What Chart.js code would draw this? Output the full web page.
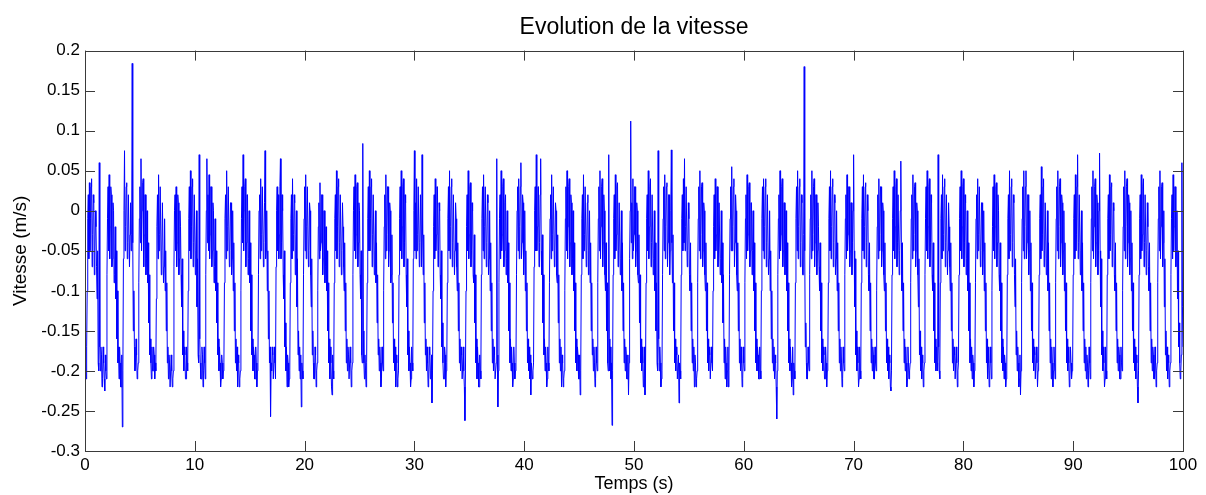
<!DOCTYPE html>
<html>
<head>
<meta charset="utf-8">
<script src="https://cdn.jsdelivr.net/npm/chart.js@4"></script>
<style>
  body { margin: 0; background: #fff; }
  canvas { display: block; }
</style>
</head>
<body>
<canvas id="graphe" width="1206" height="495"></canvas>
<script>
// pas d'echantillonnage du signal (s)
const dt = 0.05

// vitesse (m/s), un cycle par ligne
const vitesse = [
  -0.17, -0.19, -0.21, -0.17,
  -0.10,-0.01, 0.02,-0.06, 0.035,-0.05, -0.01,0.03, 0.04,-0.07, -0.03,0.02, 0.01,-0.08, -0.05,0.00, -0.02,-0.07, -0.11,-0.05, -0.19,-0.20, 0.06,-0.17, -0.20,-0.17, -0.18,-0.22, -0.21,-0.17, -0.19,-0.21, -0.225,-0.18, -0.20,-0.21,
  -0.08,-0.01, 0.03,-0.05, 0.045,-0.06, -0.02,0.03, 0.02,-0.07, -0.06,0.01, 0.00,-0.09, -0.08,-0.02, -0.11,-0.05, -0.16,-0.10, -0.19,-0.17, -0.21,-0.17, -0.19,-0.22, -0.22,-0.18, -0.27,-0.20,
  -0.06,0.00, 0.075,-0.05, -0.02,0.03, 0.035,-0.06, -0.04,0.02, 0.02,-0.07, -0.03,0.01, -0.05,-0.03, 0.184,-0.04, -0.15,-0.10, -0.17,-0.20, -0.19,-0.16, -0.18,-0.21, -0.20,-0.19,
  -0.09,-0.01, 0.03,-0.04, 0.065,-0.05, 0.00,0.035, 0.04,-0.07, -0.03,0.02, 0.02,-0.08, -0.06,0.00, -0.09,-0.04, -0.14,-0.08, -0.18,-0.16, -0.19,-0.21, -0.17,-0.20, -0.20,-0.17, -0.18,-0.21, -0.19,-0.20,
  -0.11,-0.02, 0.02,-0.06, 0.045,-0.05, -0.03,0.03, 0.03,-0.08, -0.05,0.01, 0.01,-0.09, -0.07,-0.01, -0.10,-0.05, -0.15,-0.09, -0.19,-0.17, -0.21,-0.18, -0.19,-0.22, -0.22,-0.18, -0.20,-0.22, -0.21,-0.20,
  -0.07,0.00, 0.02,-0.05, 0.03,-0.07, -0.04,0.02, 0.01,-0.08, -0.06,0.00, -0.02,-0.08, -0.12,-0.06, -0.18,-0.15, -0.20,-0.17, -0.18,-0.21, -0.21,-0.17, -0.19,-0.20,
  -0.10,-0.01, 0.03,-0.05, 0.05,-0.06, -0.02,0.03, 0.04,-0.07, -0.04,0.02, 0.02,-0.08, -0.05,0.00, -0.12,-0.06, -0.18,-0.19, 0.07,-0.16, -0.19,-0.21, -0.21,-0.17, -0.18,-0.22, -0.20,-0.17, -0.19,-0.21,
  -0.08,0.00, 0.065,-0.04, 0.02,-0.05, 0.045,-0.06, -0.03,0.03, 0.03,-0.07, -0.05,0.01, 0.00,-0.09, -0.07,-0.01, -0.10,-0.05, -0.14,-0.09, -0.18,-0.16, -0.20,-0.17, -0.19,-0.22, -0.21,-0.18, -0.19,-0.21, -0.20,-0.19,
  -0.09,-0.01, 0.02,-0.06, 0.05,-0.05, -0.02,0.03, 0.03,-0.07, -0.05,0.01, 0.01,-0.08, -0.06,0.00, -0.10,-0.04, -0.15,-0.09, -0.19,-0.16, -0.20,-0.17, -0.22,-0.18, -0.19,-0.22, -0.21,-0.20,
  -0.10,-0.01, 0.03,-0.04, 0.07,-0.05, 0.00,0.03, 0.04,-0.07, -0.04,0.02, 0.02,-0.08, -0.06,0.00, -0.09,-0.04, -0.15,-0.08, -0.18,-0.16, -0.20,-0.17, -0.18,-0.21, -0.21,-0.17, -0.19,-0.22, -0.20,-0.19,
  -0.08,0.00, 0.02,-0.06, 0.04,-0.05, -0.03,0.03, 0.03,-0.07, -0.04,0.01, 0.075,-0.06, -0.05,0.00, -0.10,-0.05, -0.16,-0.10, -0.19,-0.17, -0.257,-0.19, -0.20,-0.17, -0.18,-0.21, -0.21,-0.17, -0.19,-0.21,
  -0.07,0.00, 0.03,-0.05, 0.02,-0.06, -0.03,0.03, 0.065,-0.06, -0.04,0.02, 0.00,-0.08, -0.11,-0.05, -0.17,-0.14, -0.20,-0.17, -0.22,-0.18, -0.19,-0.22, -0.21,-0.20,
  -0.09,-0.01, 0.02,-0.06, 0.04,-0.05, -0.03,0.02, 0.01,-0.08, -0.05,0.00, -0.12,-0.06, -0.18,-0.15, -0.20,-0.17, -0.21,-0.18, -0.245,-0.19, -0.20,-0.21,
  -0.08,-0.01, 0.03,-0.05, 0.045,-0.06, -0.02,0.03, 0.03,-0.07, -0.05,0.01, 0.00,-0.08, -0.12,-0.06, -0.18,-0.15, -0.19,-0.21, -0.21,-0.17, -0.18,-0.22, -0.20,-0.19,
  -0.10,-0.02, 0.01,-0.06, 0.035,-0.05, -0.04,0.02, 0.02,-0.08, -0.06,0.00, 0.00,-0.09, -0.07,-0.02, -0.10,-0.05, -0.15,-0.09, -0.19,-0.16, -0.21,-0.17, -0.19,-0.22, -0.23,-0.18, -0.20,-0.21,
  -0.09,-0.01, 0.02,-0.05, 0.05,-0.06, -0.02,0.03, 0.04,-0.07, -0.04,0.02, 0.02,-0.08, -0.05,0.01, -0.02,-0.07, -0.10,-0.04, -0.15,-0.09, -0.19,-0.16, -0.20,-0.17, -0.18,-0.21, -0.21,-0.17, -0.19,-0.22, -0.20,-0.19,
  -0.08,0.00, 0.03,-0.05, 0.045,-0.06, -0.03,0.03, 0.035,-0.07, -0.04,0.01, 0.00,-0.08, -0.11,-0.05, -0.18,-0.19, 0.084,-0.15, -0.19,-0.21, -0.18,-0.20, -0.22,-0.19,
  -0.09,-0.01, 0.03,-0.05, 0.05,-0.05, -0.01,0.03, 0.04,-0.07, -0.03,0.02, 0.02,-0.08, -0.05,0.00, -0.09,-0.04, -0.14,-0.08, -0.18,-0.16, -0.20,-0.17, -0.19,-0.22, -0.21,-0.17, -0.19,-0.20,
  -0.10,-0.02, 0.02,-0.06, 0.045,-0.05, -0.03,0.03, 0.03,-0.07, -0.05,0.01, 0.00,-0.09, -0.08,-0.03, -0.14,-0.09, -0.19,-0.16, -0.20,-0.17, -0.22,-0.18, -0.19,-0.22, -0.21,-0.20,
  -0.08,-0.01, 0.03,-0.05, 0.05,-0.06, -0.02,0.03, 0.04,-0.07, -0.04,0.02, 0.01,-0.08, -0.12,-0.06, -0.18,-0.15, -0.20,-0.17, -0.19,-0.22, -0.21,-0.17, -0.19,-0.20,
  -0.06,0.00, 0.075,-0.05, 0.01,-0.06, 0.04,-0.05, -0.03,0.03, 0.03,-0.07, -0.04,0.02, 0.02,-0.07, 0.07,-0.03, -0.08,-0.03, -0.14,-0.09, -0.18,-0.16, -0.20,-0.17, -0.19,-0.22, -0.21,-0.17, -0.18,-0.21, -0.20,-0.18, -0.24,-0.20,
  -0.10,-0.02, 0.02,-0.06, 0.04,-0.05, -0.03,0.03, 0.03,-0.07, -0.05,0.01, 0.00,-0.08, -0.11,-0.05, -0.17,-0.14, -0.19,-0.21, -0.21,-0.17, -0.18,-0.22, -0.20,-0.19,
  -0.09,-0.01, 0.03,-0.05, 0.05,-0.06, -0.02,0.03, 0.04,-0.07, -0.04,0.02, 0.02,-0.08, -0.05,0.01, -0.01,-0.07, -0.10,-0.04, -0.15,-0.09, -0.19,-0.16, -0.20,-0.17, -0.18,-0.21, -0.21,-0.17, -0.20,-0.22, -0.262,-0.20,
  -0.10,-0.02, 0.02,-0.05, 0.05,-0.06, -0.03,0.03, 0.035,-0.07, -0.05,0.01, 0.00,-0.08, -0.09,-0.03, -0.14,-0.08, -0.19,-0.16, -0.21,-0.17, -0.19,-0.22, -0.22,-0.18, -0.20,-0.21,
  -0.08,-0.01, 0.03,-0.05, 0.045,-0.06, -0.02,0.03, 0.03,-0.07, -0.04,0.02, 0.01,-0.08, -0.06,0.00, -0.10,-0.04, -0.15,-0.09, -0.19,-0.16, -0.20,-0.17, -0.18,-0.21, -0.21,-0.19, 0.065,-0.18, -0.245,-0.20,
  -0.09,-0.01, 0.02,-0.06, 0.05,-0.05, -0.03,0.03, 0.04,-0.07, -0.05,0.01, 0.02,-0.08, -0.06,0.00, -0.09,-0.04, -0.15,-0.09, -0.19,-0.16, -0.20,-0.17, -0.19,-0.22, -0.21,-0.17, -0.19,-0.21, -0.20,-0.19,
  -0.08,0.00, 0.03,-0.05, 0.04,-0.06, -0.02,0.03, 0.06,-0.06, -0.04,0.02, 0.01,-0.08, -0.05,0.00, -0.10,-0.05, -0.15,-0.09, -0.19,-0.16, -0.20,-0.17, -0.21,-0.18, -0.23,-0.19, -0.19,-0.21, -0.20,-0.19,
  -0.07,0.00, 0.03,-0.05, 0.07,-0.05, -0.02,0.03, 0.03,-0.07, -0.04,0.02, 0.065,-0.05, -0.08,-0.03, -0.14,-0.08, -0.18,-0.16, -0.20,-0.17, -0.19,-0.22, -0.21,-0.17, -0.19,-0.20,
  -0.09,-0.01, 0.02,-0.06, 0.045,-0.05, -0.03,0.03, 0.03,-0.07, -0.05,0.01, 0.00,-0.08, -0.09,-0.03, -0.14,-0.08, -0.19,-0.16, -0.20,-0.17, -0.22,-0.18, -0.19,-0.22, -0.21,-0.20,
  -0.10,-0.01, 0.03,-0.05, 0.05,-0.06, -0.02,0.03, 0.04,-0.07, -0.04,0.02, 0.01,-0.08, -0.06,0.00, -0.10,-0.04, -0.15,-0.09, -0.19,-0.16, -0.20,-0.17, -0.18,-0.21, -0.21,-0.18, -0.23,-0.20,
  -0.08,-0.01, 0.02,-0.06, 0.045,-0.05, -0.03,0.03, 0.03,-0.07, -0.05,0.01, 0.02,-0.08, -0.05,0.00, -0.09,-0.04, -0.15,-0.09, -0.18,-0.16, -0.20,-0.17, -0.19,-0.22, -0.21,-0.17, -0.19,-0.20,
  -0.09,-0.01, 0.03,-0.05, 0.05,-0.06, -0.02,0.03, 0.04,-0.07, -0.04,0.02, 0.00,-0.08, -0.10,-0.04, -0.15,-0.09, -0.19,-0.20, 0.07,-0.16, -0.20,-0.17, -0.21,-0.19, -0.268,-0.20,
  -0.08,-0.01, 0.02,-0.06, 0.045,-0.05, -0.03,0.03, 0.035,-0.07, -0.05,0.01, 0.01,-0.08, -0.06,0.00, -0.10,-0.04, -0.15,-0.09, -0.19,-0.16, -0.20,-0.17, -0.18,-0.21, -0.21,-0.18, -0.23,-0.19,
  -0.06,0.00, 0.112,-0.04, 0.01,-0.06, 0.04,-0.05, -0.03,0.03, 0.03,-0.07, -0.05,0.01, 0.00,-0.08, -0.09,-0.03, -0.14,-0.08, -0.19,-0.16, -0.20,-0.17, -0.19,-0.22, -0.21,-0.17, -0.23,-0.20,
  -0.09,-0.01, 0.02,-0.05, 0.05,-0.06, -0.02,0.03, 0.04,-0.07, -0.04,0.02, 0.02,-0.08, -0.06,0.00, -0.10,-0.04, -0.15,-0.09, -0.19,-0.20, 0.075,-0.16, -0.20,-0.17, -0.19,-0.22, -0.21,-0.20,
  -0.08,-0.01, 0.03,-0.05, 0.045,-0.06, -0.02,0.03, 0.035,-0.07, -0.04,0.02, 0.02,-0.08, -0.05,0.00, 0.076,-0.04, -0.09,-0.03, -0.15,-0.09, -0.19,-0.16, -0.20,-0.17, -0.18,-0.21, -0.21,-0.18, -0.24,-0.19, -0.20,-0.21,
  -0.08,-0.01, 0.02,-0.05, 0.04,-0.04, 0.065,-0.05, -0.02,0.03, 0.03,-0.07, -0.05,0.01, -0.01,-0.08, -0.10,-0.04, -0.15,-0.09, -0.19,-0.16, -0.20,-0.17, -0.22,-0.18, -0.19,-0.22, -0.21,-0.20,
  -0.09,-0.01, 0.03,-0.05, 0.05,-0.06, -0.03,0.03, 0.035,-0.07, -0.05,0.01, 0.00,-0.08, -0.10,-0.04, -0.15,-0.09, -0.19,-0.16, -0.20,-0.17, -0.18,-0.21, -0.21,-0.17, -0.19,-0.20,
  -0.10,-0.02, 0.02,-0.06, 0.04,-0.05, -0.03,0.03, 0.03,-0.07, -0.05,0.01, 0.01,-0.08, -0.06,0.00, -0.09,-0.04, -0.14,-0.08, -0.19,-0.16, -0.21,-0.17, -0.19,-0.22, -0.20,-0.17, -0.22,-0.20,
  -0.08,-0.01, 0.03,-0.05, 0.055,-0.05, -0.02,0.03, 0.04,-0.07, -0.04,0.02, 0.00,-0.08, -0.10,-0.04, -0.15,-0.09, -0.19,-0.16, -0.20,-0.17, -0.19,-0.22, -0.21,-0.17, -0.19,-0.20,
  -0.09,-0.01, 0.02,-0.06, 0.045,-0.05, -0.03,0.03, 0.035,-0.07, -0.05,0.01, 0.01,-0.08, -0.05,0.00, -0.10,-0.04, -0.15,-0.09, -0.19,-0.16, -0.20,-0.17, -0.18,-0.21, -0.21,-0.17, -0.20,-0.21,
  -0.10,-0.01, 0.03,-0.05, 0.04,-0.06, -0.02,0.03, 0.04,-0.07, -0.04,0.02, 0.02,-0.08, -0.06,0.00, -0.10,-0.05, -0.16,-0.10, -0.19,-0.16, -0.20,-0.17, -0.21,-0.18, -0.19,-0.22, -0.26,-0.20,
  -0.08,-0.01, 0.02,-0.06, 0.05,-0.05, -0.03,0.03, 0.04,-0.07, -0.05,0.01, 0.01,-0.08, -0.05,0.00, -0.10,-0.04, -0.15,-0.09, -0.19,-0.16, -0.20,-0.17, -0.19,-0.22, -0.21,-0.17, -0.23,-0.19, -0.20,-0.21,
  -0.09,-0.01, 0.03,-0.05, 0.05,-0.06, -0.02,0.03, 0.04,-0.07, -0.04,0.02, 0.01,-0.08, -0.08,-0.03, 0.18,-0.05, -0.17,-0.14, -0.19,-0.21, -0.21,-0.17, -0.19,-0.20,
  -0.08,-0.01, 0.02,-0.06, 0.05,-0.05, -0.03,0.03, 0.04,-0.07, -0.04,0.02, 0.02,-0.08, -0.05,0.01, -0.02,-0.07, -0.10,-0.04, -0.15,-0.09, -0.19,-0.16, -0.20,-0.17, -0.18,-0.21, -0.21,-0.17, -0.19,-0.22, -0.20,-0.19,
  -0.09,-0.01, 0.03,-0.05, 0.05,-0.06, -0.02,0.03, 0.04,-0.07, -0.04,0.02, 0.01,-0.08, -0.06,0.00, -0.10,-0.04, -0.15,-0.09, -0.19,-0.16, -0.20,-0.17, -0.19,-0.22, -0.21,-0.17, -0.19,-0.20,
  -0.08,-0.01, 0.02,-0.06, 0.045,-0.05, -0.03,0.03, 0.03,-0.07, -0.05,0.01, 0.01,-0.08, -0.04,0.00, 0.07,-0.05, -0.12,-0.06, -0.18,-0.15, -0.20,-0.17, -0.19,-0.22, -0.21,-0.17, -0.20,-0.21,
  -0.09,-0.01, 0.03,-0.05, 0.045,-0.06, -0.02,0.03, 0.035,-0.07, -0.04,0.02, 0.00,-0.08, -0.10,-0.04, -0.15,-0.09, -0.19,-0.16, -0.20,-0.17, -0.18,-0.21, -0.21,-0.17, -0.19,-0.20,
  -0.10,-0.02, 0.02,-0.06, 0.04,-0.05, -0.03,0.03, 0.03,-0.07, -0.05,0.01, 0.00,-0.08, -0.10,-0.04, -0.15,-0.09, -0.19,-0.16, -0.20,-0.17, -0.21,-0.18, -0.19,-0.22, -0.225,-0.20,
  -0.08,-0.01, 0.03,-0.05, 0.05,-0.06, -0.02,0.03, 0.04,-0.07, -0.04,0.02, 0.02,-0.08, -0.05,0.00, 0.062,-0.04, -0.10,-0.04, -0.15,-0.09, -0.19,-0.16, -0.20,-0.17, -0.19,-0.22, -0.21,-0.17, -0.19,-0.21, -0.20,-0.19,
  -0.09,-0.01, 0.02,-0.06, 0.045,-0.05, -0.03,0.03, 0.035,-0.07, -0.05,0.01, 0.00,-0.08, -0.12,-0.06, -0.18,-0.15, -0.20,-0.17, -0.21,-0.18, -0.19,-0.22, -0.20,-0.19,
  -0.08,-0.01, 0.03,-0.05, 0.05,-0.06, -0.02,0.03, 0.04,-0.07, -0.04,0.02, 0.01,-0.08, -0.10,-0.04, -0.15,-0.09, -0.19,-0.16, -0.20,-0.17, -0.19,-0.20, 0.07,-0.17, -0.20,-0.21,
  -0.09,-0.01, 0.02,-0.06, 0.045,-0.05, -0.03,0.03, 0.04,-0.07, -0.04,0.02, 0.02,-0.08, -0.05,0.01, -0.02,-0.07, -0.10,-0.04, -0.15,-0.09, -0.19,-0.16, -0.20,-0.17, -0.18,-0.21, -0.21,-0.17, -0.19,-0.22, -0.20,-0.19,
  -0.08,-0.01, 0.03,-0.05, 0.05,-0.06, -0.02,0.03, 0.04,-0.07, -0.04,0.02, 0.01,-0.08, -0.06,0.00, -0.10,-0.04, -0.15,-0.09, -0.19,-0.16, -0.20,-0.17, -0.21,-0.18, -0.19,-0.22, -0.20,-0.19,
  -0.09,-0.01, 0.02,-0.06, 0.04,-0.05, -0.03,0.03, 0.03,-0.07, -0.05,0.01, 0.01,-0.08, -0.05,0.00, -0.10,-0.04, -0.15,-0.09, -0.19,-0.16, -0.21,-0.17, -0.19,-0.22, -0.20,-0.17, -0.19,-0.21,
  -0.10,-0.02, 0.03,-0.05, 0.045,-0.06, -0.02,0.03, 0.035,-0.07, -0.04,0.02, 0.00,-0.08, -0.10,-0.04, -0.15,-0.09, -0.19,-0.16, -0.20,-0.17, -0.21,-0.18, -0.19,-0.22, -0.21,-0.20,
  -0.08,-0.01, 0.02,-0.06, 0.05,-0.05, -0.03,0.03, 0.04,-0.07, -0.04,0.02, 0.01,-0.08, -0.12,-0.06, -0.18,-0.15, -0.20,-0.17, -0.19,-0.22, -0.21,-0.18, -0.23,-0.20,
  -0.09,-0.01, 0.03,-0.05, 0.05,-0.06, -0.02,0.03, 0.05,-0.06, -0.04,0.02, 0.02,-0.08, -0.05,0.00, -0.10,-0.04, -0.15,-0.09, -0.19,-0.16, -0.20,-0.17, -0.18,-0.21, -0.21,-0.17, -0.19,-0.22, -0.20,-0.19,
  -0.08,-0.01, 0.02,-0.06, 0.055,-0.05, -0.03,0.03, 0.04,-0.07, -0.05,0.01, 0.01,-0.08, -0.06,0.00, -0.10,-0.04, -0.15,-0.09, -0.19,-0.16, -0.21,-0.17, -0.19,-0.22, -0.20,-0.17, -0.19,-0.21,
  -0.09,-0.01, 0.03,-0.05, 0.05,-0.06, -0.02,0.03, 0.04,-0.07, -0.04,0.02, 0.01,-0.08, -0.05,0.00, -0.10,-0.04, -0.15,-0.09, -0.19,-0.16, -0.20,-0.17, -0.19,-0.22, -0.21,-0.17, -0.19,-0.21, -0.20,-0.19,
  -0.08,-0.01, 0.02,-0.06, 0.045,-0.05, -0.03,0.03, 0.07,-0.06, -0.04,0.02, 0.02,-0.08, -0.05,0.00, -0.10,-0.04, -0.15,-0.09, -0.19,-0.16, -0.20,-0.17, -0.21,-0.18, -0.19,-0.22, -0.20,-0.17, -0.19,-0.21,
  -0.09,-0.01, 0.03,-0.05, 0.05,-0.06, -0.02,0.03, 0.04,-0.07, -0.04,0.02, 0.01,-0.08, -0.05,0.00, 0.072,-0.05, -0.12,-0.06, -0.18,-0.15, -0.20,-0.17, -0.19,-0.22, -0.21,-0.17, -0.20,-0.21,
  -0.08,-0.01, 0.02,-0.06, 0.045,-0.05, -0.03,0.03, 0.035,-0.07, -0.05,0.01, 0.00,-0.08, -0.10,-0.04, -0.15,-0.09, -0.19,-0.16, -0.20,-0.17, -0.18,-0.21, -0.21,-0.17, -0.19,-0.20,
  -0.10,-0.02, 0.03,-0.05, 0.05,-0.06, -0.02,0.03, 0.04,-0.07, -0.04,0.02, 0.01,-0.08, -0.06,0.00, -0.10,-0.04, -0.15,-0.09, -0.19,-0.16, -0.20,-0.17, -0.21,-0.18, -0.19,-0.22, -0.24,-0.20,
  -0.08,-0.01, 0.02,-0.06, 0.045,-0.05, -0.03,0.03, 0.04,-0.07, -0.04,0.02, 0.02,-0.08, -0.05,0.01, -0.02,-0.07, -0.10,-0.04, -0.15,-0.09, -0.19,-0.16, -0.20,-0.17, -0.18,-0.21, -0.21,-0.17, -0.19,-0.22, -0.20,-0.19,
  -0.09,-0.01, 0.03,-0.05, 0.05,-0.06, -0.02,0.03, 0.035,-0.07, -0.04,0.00, -0.12,-0.06, -0.18,-0.15, -0.20,-0.17, -0.21,-0.18, -0.19,-0.22, -0.20,-0.19,
  -0.08,-0.01, 0.02,-0.06, 0.045,-0.05, -0.02,0.03, 0.03,-0.07, -0.05,0.00, -0.11,-0.05, -0.17,-0.14, -0.19,-0.21, -0.20,-0.18, 0.06,-0.12, -0.17
]

// graduations
const xTicks = [0, 10, 20, 30, 40, 50, 60, 70, 80, 90, 100]
const yTicks = [-0.3, -0.25, -0.2, -0.15, -0.1, -0.05, 0, 0.05, 0.1, 0.15, 0.2]
const yTickLabels = ['-0.3', '-0.25', '-0.2', '-0.15', '-0.1', '-0.05', '0', '0.05', '0.1', '0.15', '0.2']

const points = vitesse.map((v, i) => ({ x: Math.round(i * dt * 100) / 100, y: v }))

Chart.defaults.font.family = '"Liberation Sans", Arial, sans-serif'
Chart.defaults.color = '#000'

// cadre et graduations vers l'interieur, comme sous Matlab
const cadre = {
  id: 'cadre',
  afterDraw(chart) {
    const { ctx, chartArea: a, scales: { x, y } } = chart
    const len = 10
    ctx.save()
    ctx.strokeStyle = '#3a3a3a'
    ctx.lineWidth = 1
    ctx.beginPath()
    x.ticks.forEach(t => {
      const px = Math.round(x.getPixelForValue(t.value)) + 0.5
      ctx.moveTo(px, a.bottom); ctx.lineTo(px, a.bottom - len)
      ctx.moveTo(px, a.top); ctx.lineTo(px, a.top + len)
    })
    y.ticks.forEach(t => {
      const py = Math.round(y.getPixelForValue(t.value)) + 0.5
      ctx.moveTo(a.left, py); ctx.lineTo(a.left + len, py)
      ctx.moveTo(a.right, py); ctx.lineTo(a.right - len, py)
    })
    ctx.stroke()
    ctx.strokeRect(Math.round(a.left) + 0.5, Math.round(a.top) + 0.5,
      Math.round(a.right - a.left), Math.round(a.bottom - a.top))
    ctx.restore()
  }
}

const ctx = document.getElementById('graphe')
const chart = new Chart(ctx, {
  type: 'line',
  data: {
    datasets: [{
      data: points,
      borderColor: '#0000ff',
      borderWidth: 1,
      pointRadius: 0,
      tension: 0,
      fill: false
    }]
  },
  options: {
    responsive: false,
    animation: false,
    devicePixelRatio: 1,
    layout: { padding: { left: 0, right: 23, top: 0, bottom: 0 } },
    scales: {
      x: {
        type: 'linear',
        min: 0,
        max: 100,
        afterBuildTicks: s => { s.ticks = xTicks.map(v => ({ value: v })) },
        afterFit: s => { s.height = 44 },
        grid: { display: false, drawTicks: false, tickLength: 0 },
        border: { display: false },
        ticks: {
          padding: 4,
          maxRotation: 0,
          font: { size: 17 },
          color: '#000',
          callback: v => String(v)
        },
        title: {
          display: true,
          text: 'Temps (s)',
          font: { size: 18 },
          padding: { top: 0, bottom: 0 }
        }
      },
      y: {
        type: 'linear',
        min: -0.3,
        max: 0.2,
        afterBuildTicks: s => { s.ticks = yTicks.map(v => ({ value: v })) },
        afterFit: s => { s.width = 85 },
        grid: { display: false, drawTicks: false, tickLength: 0 },
        border: { display: false },
        ticks: {
          padding: 5,
          font: { size: 17 },
          color: '#000',
          callback: (v, i) => yTickLabels[i]
        },
        title: {
          display: true,
          text: 'Vitesse (m/s)',
          font: { size: 19 },
          padding: { top: 9, bottom: 0 }
        }
      }
    },
    plugins: {
      legend: { display: false },
      tooltip: { enabled: false },
      title: {
        display: true,
        text: 'Evolution de la vitesse',
        fullSize: false,
        font: { size: 23, weight: 'normal' },
        color: '#000',
        padding: { top: 14, bottom: 9 }
      }
    }
  },
  plugins: [cadre]
})
</script>
</body>
</html>
